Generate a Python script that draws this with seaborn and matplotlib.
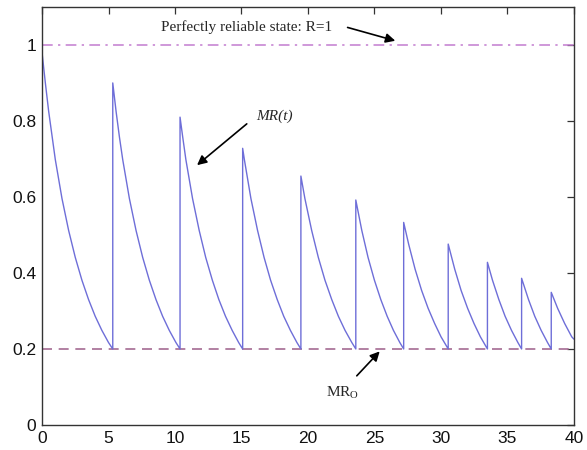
import matplotlib
matplotlib.use("Agg")
import matplotlib.pyplot as plt
import seaborn as sns
import pandas as pd

# Maintenance reliability MR(t): each cycle decays to the threshold MR_O,
# then preventive maintenance restores it to a lower peak.
seg_t = [
    [0.00, 0.25, 0.50, 1.00, 1.50, 2.00, 2.50, 3.00, 3.50, 4.00, 4.50, 5.00, 5.32],
    [5.32, 5.57, 5.82, 6.07, 6.57, 7.07, 7.57, 8.07, 8.57, 9.07, 9.57, 10.07, 10.38],
    [10.38, 10.58, 10.82, 11.32, 11.82, 12.31, 12.81, 13.30, 13.80, 14.30, 14.79, 15.09],
    [15.09, 15.22, 15.71, 16.21, 16.70, 17.19, 17.69, 18.18, 18.68, 19.17, 19.47],
    [19.47, 19.77, 20.28, 20.78, 21.28, 21.79, 22.29, 22.79, 23.30, 23.60],
    [23.60, 24.05, 24.52, 25.00, 25.48, 25.96, 26.43, 26.91, 27.20],
    [27.20, 27.58, 28.06, 28.55, 29.04, 29.53, 30.01, 30.55],
    [30.55, 31.04, 31.52, 32.01, 32.49, 32.97, 33.50],
    [33.50, 33.88, 34.36, 34.83, 35.31, 35.79, 36.07],
    [36.07, 36.59, 37.06, 37.54, 38.02, 38.30],
    [38.30, 38.78, 39.31, 39.84, 40.00],
]
seg_r = [
    [0.980, 0.900, 0.825, 0.698, 0.596, 0.512, 0.441, 0.381, 0.330, 0.286, 0.249, 0.217, 0.200],
    [0.900, 0.825, 0.758, 0.698, 0.596, 0.512, 0.441, 0.381, 0.330, 0.286, 0.249, 0.217, 0.200],
    [0.810, 0.758, 0.698, 0.596, 0.512, 0.441, 0.381, 0.330, 0.286, 0.249, 0.217, 0.200],
    [0.728, 0.698, 0.596, 0.512, 0.441, 0.381, 0.330, 0.286, 0.249, 0.217, 0.200],
    [0.655, 0.596, 0.512, 0.441, 0.381, 0.330, 0.286, 0.249, 0.217, 0.200],
    [0.592, 0.512, 0.441, 0.381, 0.330, 0.286, 0.249, 0.217, 0.200],
    [0.533, 0.475, 0.410, 0.354, 0.307, 0.267, 0.232, 0.200],
    [0.476, 0.410, 0.354, 0.307, 0.267, 0.232, 0.200],
    [0.428, 0.381, 0.330, 0.286, 0.249, 0.217, 0.200],
    [0.386, 0.330, 0.286, 0.249, 0.217, 0.200],
    [0.349, 0.307, 0.267, 0.232, 0.226],
]
r_perfect = 1.0
mr_o = 0.2

x_ticks = [0, 5, 10, 15, 20, 25, 30, 35, 40]
y_ticks = [0, 0.2, 0.4, 0.6, 0.8, 1.0]
y_tick_labels = ["0", "0.2", "0.4", "0.6", "0.8", "1"]

t_all = [t for seg in seg_t for t in seg]
r_all = [r for seg in seg_r for r in seg]
df = pd.DataFrame({"t": t_all, "MR": r_all})

sns.set_style("white")
plt.rcParams["font.family"] = ["Liberation Sans", "DejaVu Sans"]

fig = plt.figure(figsize=(5.87, 4.5), dpi=100)
ax = fig.add_axes([0.0716, 0.0556, 0.906, 0.929])

ax.axhline(r_perfect, color="#c27ccf", lw=1.1, ls=(0, (7, 3.5, 1.5, 3.5)))
ax.axhline(mr_o, color="#a46b92", lw=1.2, ls=(0, (6, 4)))

sns.lineplot(data=df, x="t", y="MR", ax=ax, sort=False, estimator=None,
             color="#6e6ed8", lw=1.0)

ax.set_xlim(0, 40)
ax.set_ylim(0, 1.1)
ax.set_xticks(x_ticks)
ax.set_xticklabels([str(v) for v in x_ticks])
ax.set_yticks(y_ticks)
ax.set_yticklabels(y_tick_labels)
ax.set_xlabel("")
ax.set_ylabel("")
ax.tick_params(direction="in", length=5, width=0.9, color="#333333",
               labelsize=12.5, labelcolor="#111111", top=True, right=True,
               pad=4)
for sp in ax.spines.values():
    sp.set_color("#333333")
    sp.set_linewidth(1.0)
    sp.set_visible(True)

serif = ["Liberation Serif", "DejaVu Serif"]
arrow = dict(arrowstyle="-|>", color="black", lw=1.2, mutation_scale=14)

ax.text(8.95, 1.047, "Perfectly reliable state: R=1", family=serif,
        fontsize=11, va="center", ha="left")
ax.annotate("", xy=(26.77, 1.009), xytext=(22.78, 1.048), arrowprops=arrow)

ax.text(16.1, 0.813, "MR(t)", family=serif, style="italic",
        fontsize=11, va="center", ha="left")
ax.annotate("", xy=(11.5, 0.679), xytext=(15.56, 0.797), arrowprops=arrow)

ax.text(21.35, 0.085, r"MR$_{\mathregular{O}}$", family=serif,
        fontsize=11, va="center", ha="left")
ax.annotate("", xy=(25.54, 0.199), xytext=(23.53, 0.124), arrowprops=arrow)

fig.savefig("out.png", dpi=100)
